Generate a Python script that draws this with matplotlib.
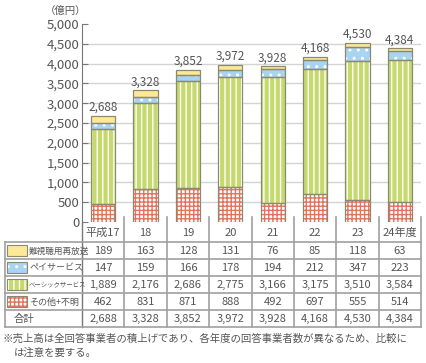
import matplotlib
matplotlib.use("Agg")
import matplotlib.pyplot as plt
from matplotlib.patches import Rectangle

plt.rcParams['font.family'] = ['Noto Sans CJK JP', 'DejaVu Sans']
plt.rcParams['hatch.linewidth'] = 1.0

years = ['平成17', '18', '19', '20', '21', '22', '23', '24年度']
series = ['難視聴用再放送', 'ペイサービス', 'ベーシックサービス', 'その他+不明']
nanshicho = [189, 163, 128, 131, 76, 85, 118, 63]
pay = [147, 159, 166, 178, 194, 212, 347, 223]
basic = [1889, 2176, 2686, 2775, 3166, 3175, 3510, 3584]
other = [462, 831, 871, 888, 492, 697, 555, 514]
totals = [2688, 3328, 3852, 3972, 3928, 4168, 4530, 4384]
yticks = [0, 500, 1000, 1500, 2000, 2500, 3000, 3500, 4000, 4500, 5000]

W, H = 426, 363
fig = plt.figure(figsize=(W / 100, H / 100), dpi=100)

# pixel layout of the plot area
ax_l, ax_r, ax_t, ax_b = 82, 421, 24, 222
ax = fig.add_axes([ax_l / W, 1 - ax_b / H, (ax_r - ax_l) / W, (ax_b - ax_t) / H])

txt = '#555555'
edge = '#8a8a70'
grid_c = '#d4d4d4'

styles = [
    # (values, face, hatch, hatch colour)
    (other, '#ffffff', '++++', '#e2735f'),
    (basic, '#c5d96c', '|||', '#ffffff'),
    (pay, '#a8d3f1', '..', '#ffffff'),
    (nanshicho, '#fde896', None, None),
]

x = list(range(len(years)))
bw = 0.57
bottom = [0] * len(years)
for vals, face, hatch, hc in styles:
    if hatch:
        ax.bar(x, vals, bw, bottom=bottom, color=face, hatch=hatch,
               edgecolor=hc, linewidth=0, zorder=3)
    else:
        ax.bar(x, vals, bw, bottom=bottom, color=face, linewidth=0, zorder=3)
    ax.bar(x, vals, bw, bottom=bottom, fill=False, edgecolor=edge,
           linewidth=0.9, zorder=4)
    bottom = [b + v for b, v in zip(bottom, vals)]

for xi, t in zip(x, totals):
    ax.text(xi, t + 50, f'{t:,}', ha='center', va='bottom', fontsize=8.5,
            color=txt, zorder=5)

for yv in yticks[1:-1]:
    ax.axhline(yv, color=grid_c, linewidth=1, zorder=1)

ax.set_xlim(-0.5, len(years) - 0.5)
ax.set_ylim(0, 5000)
ax.set_yticks(yticks)
ax.set_yticklabels([f'{v:,}' for v in yticks], fontsize=9.5, color=txt)
ax.set_xticks([])
ax.tick_params(axis='y', direction='in', length=4, color='#777777', pad=2)
for s in ['top', 'right', 'bottom']:
    ax.spines[s].set_visible(False)
ax.spines['left'].set_color('#777777')
ax.patch.set_alpha(0)

# table drawn in pixel space
tab = fig.add_axes([0, 0, 1, 1], zorder=-1)
tab.set_xlim(0, W)
tab.set_ylim(H, 0)
tab.axis('off')

col_w = (ax_r - ax_l) / len(years)
line_c = '#a0a0a0'
rows_y = [242, 259, 276, 293, 310, 327]
tab_l = 5

# vertical separators
tab.plot([ax_l, ax_l], [ax_b, rows_y[-1]], color='#777777', lw=1)
for i in range(1, len(years) + 1):
    xv = ax_l + i * col_w
    tab.plot([xv, xv], [ax_b - 5, rows_y[-1]], color=line_c, lw=1.2)
tab.plot([tab_l, tab_l], [rows_y[0], rows_y[-1]], color=line_c, lw=1.2)
for yv in rows_y:
    tab.plot([tab_l, ax_r], [yv, yv], color=line_c, lw=1.2)

for i, yr in enumerate(years):
    tab.text(ax_l + (i + 0.5) * col_w, (ax_b + rows_y[0]) / 2 + 1, yr,
             ha='center', va='center', fontsize=8, color=txt)

table_rows = [nanshicho, pay, basic, other, totals]
swatches = [('#fde896', None, None), ('#a8d3f1', '..', '#ffffff'),
            ('#c5d96c', '|||', '#ffffff'), ('#ffffff', '++++', '#e2735f')]
label_sizes = [6.2, 6.5, 4.6, 6.5]
for r, vals in enumerate(table_rows):
    yc = (rows_y[r] + rows_y[r + 1]) / 2
    for i, v in enumerate(vals):
        tab.text(ax_l + (i + 0.5) * col_w, yc + 0.5, f'{v:,}', ha='center',
                 va='center', fontsize=8, color=txt)
    if r < 4:
        face, hatch, hc = swatches[r]
        tab.add_patch(Rectangle((7, yc - 5.5), 20, 11, facecolor=face,
                                hatch=hatch, edgecolor=hc if hc else face, lw=0))
        tab.add_patch(Rectangle((7, yc - 5.5), 20, 11, fill=False,
                                edgecolor=edge, lw=0.8))
        tab.text(29, yc + 0.5, series[r], ha='left', va='center',
                 fontsize=label_sizes[r], color=txt)
    else:
        tab.text(14, yc + 0.5, '合計', ha='left', va='center', fontsize=7.5,
                 color=txt)

fig.text(45 / W, 1 - 11 / H, '（億円）', ha='left', va='center', fontsize=7.5,
         color=txt)
fig.text(3 / W, 1 - 339 / H,
         '※売上高は全回答事業者の積上げであり、各年度の回答事業者数が異なるため、比較に',
         ha='left', va='center', fontsize=7.5, color=txt)
fig.text(14 / W, 1 - 353 / H, 'は注意を要する。', ha='left', va='center',
         fontsize=7.5, color=txt)

fig.savefig('out.png', dpi=100)
